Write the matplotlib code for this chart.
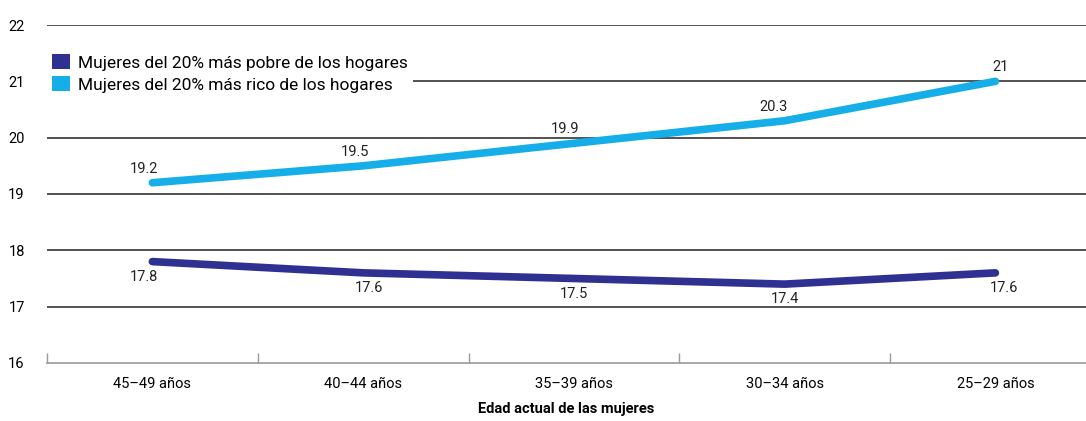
import matplotlib
matplotlib.use("Agg")
import matplotlib.pyplot as plt
from matplotlib.patches import Patch

plt.rcParams['font.family'] = ['Roboto', 'DejaVu Sans']

categories = ["45–49 años", "40–44 años", "35–39 años", "30–34 años", "25–29 años"]
pobre = [17.8, 17.6, 17.5, 17.4, 17.6]
rico = [19.2, 19.5, 19.9, 20.3, 21]
pobre_labels = ["17.8", "17.6", "17.5", "17.4", "17.6"]
rico_labels = ["19.2", "19.5", "19.9", "20.3", "21"]
yticks = [16, 17, 18, 19, 20, 21, 22]

c_pobre = "#2E3192"
c_rico = "#15AEE8"

fig = plt.figure(figsize=(10.86, 4.21), dpi=100)
ax = fig.add_axes([0.0433, 0.1378, 0.9567, 0.8028])
x = list(range(len(categories)))

for y in yticks[1:]:
    ax.axhline(y, color="#333333", lw=1.2, zorder=1)

ax.plot(x, pobre, color=c_pobre, lw=5.5, solid_capstyle="round", solid_joinstyle="round", zorder=3)
ax.plot(x, rico, color=c_rico, lw=5.5, solid_capstyle="round", solid_joinstyle="round", zorder=3)

rico_dx = [-6, -6, -6, -8, 4]
pobre_dx = [-6, 4, 0, 0, 6]
for xi, v, t, dx in zip(x, rico, rico_labels, rico_dx):
    ax.annotate(t, (xi, v), xytext=(dx, 5), textcoords="offset points",
                ha="center", va="bottom", fontsize=10.5, color="#222222")
for xi, v, t, dx in zip(x, pobre, pobre_labels, pobre_dx):
    ax.annotate(t, (xi, v), xytext=(dx, -6), textcoords="offset points",
                ha="center", va="top", fontsize=10.5, color="#222222")

ax.set_xlim(-0.5, 4.43)
ax.set_ylim(16, 22)
ax.set_yticks(yticks)
ax.set_yticklabels([str(v) for v in yticks], fontsize=10.5)
ax.tick_params(axis="y", length=0, pad=16)
ax.set_xticks([-0.5, 0.5, 1.5, 2.5, 3.5])
ax.set_xticklabels([])
ax.set_xticks(x, minor=True)
ax.set_xticklabels(categories, minor=True, fontsize=10.5)
ax.tick_params(axis="x", which="major", direction="in", length=7, color="#999999", width=1)
ax.tick_params(axis="x", which="minor", length=0, pad=10)

for s in ["top", "right", "left"]:
    ax.spines[s].set_visible(False)
ax.spines["bottom"].set_color("#999999")
ax.spines["bottom"].set_linewidth(1.2)

ax.set_xlabel("Edad actual de las mujeres", fontsize=10.5, fontweight="bold", labelpad=8)

handles = [Patch(facecolor=c_pobre), Patch(facecolor=c_rico)]
leg = ax.legend(handles, ["Mujeres del 20% más pobre de los hogares",
                          "Mujeres del 20% más rico de los hogares"],
                loc="upper left", bbox_to_anchor=(0.0, 0.93), frameon=True,
                fontsize=12.5, handlelength=1.0, handleheight=1.0, handletextpad=0.5,
                labelspacing=0.3, borderpad=0.3, borderaxespad=0.0)
leg.get_frame().set_facecolor("white")
leg.get_frame().set_edgecolor("none")
leg.get_frame().set_alpha(1)
leg.set_zorder(2)

fig.savefig("out.png", dpi=100)
